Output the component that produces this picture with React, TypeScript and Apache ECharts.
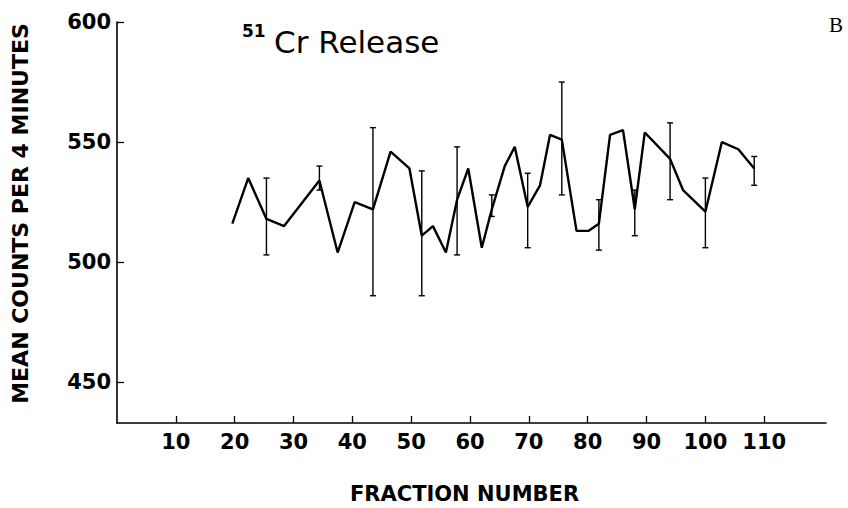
import React, { useEffect, useRef } from "react";
import * as echarts from "echarts";

// Fraction numbers and mean counts
const fractions = [19.6, 22.3, 25.4, 28.4, 34.4, 37.5, 40.4, 43.5, 46.5, 49.7, 51.8, 53.7, 55.9, 57.8, 59.7, 62.0, 63.7, 65.9, 67.6, 69.8, 71.9, 73.6, 75.6, 78.1, 80.1, 81.9, 83.8, 86.0, 88.0, 89.7, 94.0, 96.2, 100.0, 102.8, 105.6, 108.3];
const counts = [516, 535, 518, 515, 534, 504, 525, 522, 546, 539, 511, 515, 504, 526, 539, 506, 522, 540, 548, 523, 532, 553, 551, 513, 513, 516, 553, 555, 522, 554, 543, 530, 521, 550, 547, 539];

// Error bars
const ebFraction = [25.4, 34.4, 43.5, 51.8, 57.8, 63.7, 69.8, 75.6, 81.9, 88.0, 94.0, 100.0, 108.3];
const ebLow = [503, 530, 486, 486, 503, 519, 506, 528, 505, 511, 526, 506, 532];
const ebHigh = [535, 540, 556, 538, 548, 528, 537, 575, 526, 530, 558, 535, 544];

// Tick labels
const xTicks = [10, 20, 30, 40, 50, 60, 70, 80, 90, 100, 110];
const yTicks = [450, 500, 550, 600];

export default function App() {
  const ref = useRef<HTMLDivElement>(null);
  useEffect(() => {
    if (!ref.current) return;
    const chart = echarts.init(ref.current, null, { renderer: "svg" });
    const lineData = fractions.map((f, i) => [f, counts[i]]);
    const ebData = ebFraction.map((f, i) => [f, ebLow[i], ebHigh[i]]);
    const tickFont = '"DejaVu Sans", sans-serif';
    chart.setOption({
      animation: false,
      backgroundColor: "#ffffff",
      grid: { left: 117, right: 22, top: 22, bottom: 85, containLabel: false, outerBoundsMode: "none" },
      xAxis: {
        type: "value",
        min: 0,
        max: 120.5,
        name: "FRACTION NUMBER",
        nameLocation: "middle",
        nameGap: 60,
        nameTextStyle: { fontFamily: tickFont, fontWeight: "bold", fontSize: 21, color: "#000", padding: [0, 14, 0, 0] },
        splitLine: { show: false },
        axisLine: { show: true, lineStyle: { color: "#000", width: 1.6 } },
        axisTick: { show: true, inside: true, length: 7, customValues: xTicks, lineStyle: { color: "#000", width: 1.3 } },
        axisLabel: { customValues: xTicks, margin: 8, fontFamily: tickFont, fontWeight: "bold", fontSize: 21, color: "#000" },
      },
      yAxis: {
        type: "value",
        min: 433,
        max: 600,
        name: "MEAN COUNTS PER 4 MINUTES",
        nameLocation: "middle",
        nameGap: 86,
        nameTextStyle: { fontFamily: tickFont, fontWeight: "bold", fontSize: 22, color: "#000", padding: [0, 0, 0, 18] },
        splitLine: { show: false },
        axisLine: { show: true, lineStyle: { color: "#000", width: 1.6 } },
        axisTick: { show: true, inside: true, length: 7, customValues: yTicks, lineStyle: { color: "#000", width: 1.3 } },
        axisLabel: { customValues: yTicks, margin: 6, fontFamily: tickFont, fontWeight: "bold", fontSize: 21, color: "#000" },
      },
      graphic: [
        { type: "text", left: 242, top: 22, style: { text: "51", font: 'bold 17px "DejaVu Sans", sans-serif', fill: "#000" } },
        { type: "text", left: 274, top: 26, style: { text: "Cr Release", font: '31px "DejaVu Sans", sans-serif', fill: "#000" } },
        { type: "text", left: 829, top: 14, style: { text: "B", font: '21px "Liberation Serif", serif', fill: "#000" } },
      ],
      series: [
        {
          type: "line",
          data: lineData,
          symbol: "none",
          lineStyle: { color: "#000", width: 2.4 },
        },
        {
          type: "custom",
          data: ebData,
          renderItem: (params: any, api: any) => {
            const x = api.value(0);
            const lo = api.coord([x, api.value(1)]);
            const hi = api.coord([x, api.value(2)]);
            const w = 3;
            const style = { stroke: "#000", lineWidth: 1.4 };
            return {
              type: "group",
              children: [
                { type: "line", shape: { x1: lo[0], y1: lo[1], x2: hi[0], y2: hi[1] }, style },
                { type: "line", shape: { x1: hi[0] - w, y1: hi[1], x2: hi[0] + w, y2: hi[1] }, style },
                { type: "line", shape: { x1: lo[0] - w, y1: lo[1], x2: lo[0] + w, y2: lo[1] }, style },
              ],
            };
          },
        },
      ],
    });
    return () => chart.dispose();
  }, []);
  return <div ref={ref} style={{ position: "fixed", left: 0, top: 0, width: 848, height: 508 }} />;
}
